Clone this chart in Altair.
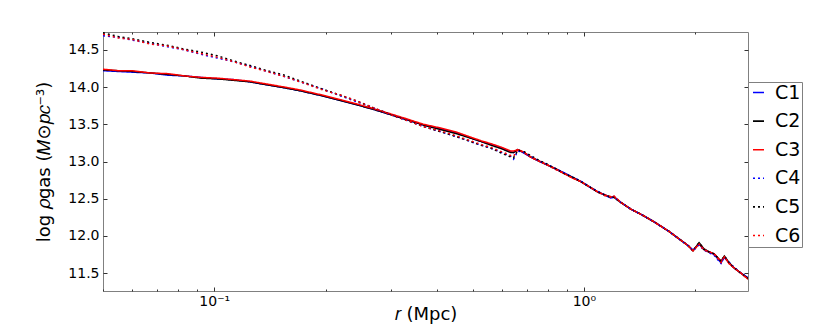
import altair as alt
import pandas as pd

# radius (Mpc)
R = [0.050, 0.055, 0.060, 0.067, 0.075, 0.083, 0.092, 0.102, 0.113, 0.125,
     0.139, 0.155, 0.171, 0.197, 0.220, 0.244, 0.270, 0.300, 0.333, 0.368,
     0.410, 0.455, 0.526, 0.560, 0.600, 0.634, 0.645, 0.663, 0.690, 0.718,
     0.760, 0.799, 0.840, 0.883, 0.930, 0.981, 1.035, 1.091, 1.140, 1.183,
     1.205, 1.259, 1.340, 1.440, 1.548, 1.700, 1.914, 1.974, 2.050, 2.110,
     2.170, 2.250, 2.350, 2.400, 2.470, 2.550, 2.660, 2.780]

C1 = [14.22, 14.21, 14.20, 14.19, 14.16, 14.15, 14.13, 14.11, 14.10, 14.07,
      14.03, 13.99, 13.95, 13.88, 13.82, 13.76, 13.70, 13.63, 13.56, 13.49,
      13.44, 13.38, 13.27, 13.23, 13.18, 13.13, 13.12, 13.16, 13.11, 13.06,
      13.00, 12.95, 12.90, 12.85, 12.79, 12.73, 12.66, 12.59, 12.55, 12.51,
      12.53, 12.45, 12.36, 12.28, 12.19, 12.06, 11.87, 11.81, 11.89, 11.82,
      11.79, 11.75, 11.64, 11.71, 11.64, 11.57, 11.50, 11.44]
C2 = [14.23, 14.22, 14.21, 14.19, 14.17, 14.15, 14.12, 14.11, 14.09, 14.07,
      14.03, 13.99, 13.95, 13.88, 13.82, 13.76, 13.70, 13.63, 13.56, 13.49,
      13.43, 13.37, 13.27, 13.22, 13.17, 13.12, 13.12, 13.16, 13.12, 13.06,
      13.00, 12.95, 12.90, 12.84, 12.79, 12.73, 12.66, 12.59, 12.55, 12.52,
      12.52, 12.45, 12.36, 12.28, 12.19, 12.06, 11.87, 11.80, 11.91, 11.83,
      11.79, 11.76, 11.66, 11.73, 11.64, 11.57, 11.50, 11.43]
C3 = [14.24, 14.22, 14.22, 14.19, 14.18, 14.15, 14.13, 14.12, 14.10, 14.08,
      14.04, 14.00, 13.96, 13.89, 13.83, 13.77, 13.71, 13.64, 13.57, 13.50,
      13.45, 13.39, 13.28, 13.24, 13.19, 13.14, 13.14, 13.16, 13.12, 13.06,
      13.00, 12.95, 12.90, 12.84, 12.78, 12.73, 12.66, 12.59, 12.55, 12.52,
      12.53, 12.45, 12.36, 12.28, 12.19, 12.06, 11.87, 11.80, 11.89, 11.82,
      11.79, 11.76, 11.66, 11.72, 11.63, 11.57, 11.50, 11.42]
C4 = [14.69, 14.67, 14.63, 14.59, 14.54, 14.50, 14.44, 14.39, 14.34, 14.28,
      14.21, 14.14, 14.07, 13.97, 13.88, 13.80, 13.72, 13.63, 13.55, 13.47,
      13.40, 13.33, 13.22, 13.18, 13.12, 13.07, 13.03, 13.14, 13.12, 13.07,
      13.00, 12.96, 12.90, 12.85, 12.79, 12.74, 12.66, 12.60, 12.55, 12.51,
      12.52, 12.45, 12.36, 12.28, 12.19, 12.06, 11.87, 11.80, 11.88, 11.81,
      11.78, 11.74, 11.63, 11.72, 11.65, 11.58, 11.50, 11.44]
C5 = [14.73, 14.68, 14.65, 14.60, 14.56, 14.51, 14.47, 14.42, 14.35, 14.29,
      14.22, 14.16, 14.08, 13.97, 13.89, 13.81, 13.72, 13.63, 13.55, 13.47,
      13.40, 13.33, 13.22, 13.18, 13.11, 13.06, 13.05, 13.15, 13.13, 13.08,
      13.01, 12.96, 12.90, 12.84, 12.79, 12.73, 12.66, 12.59, 12.55, 12.52,
      12.52, 12.45, 12.36, 12.28, 12.19, 12.06, 11.87, 11.80, 11.91, 11.82,
      11.79, 11.76, 11.66, 11.73, 11.64, 11.57, 11.50, 11.43]
C6 = [14.71, 14.66, 14.64, 14.58, 14.55, 14.50, 14.45, 14.40, 14.34, 14.27,
      14.21, 14.14, 14.07, 13.96, 13.89, 13.81, 13.72, 13.63, 13.55, 13.47,
      13.41, 13.34, 13.23, 13.19, 13.13, 13.08, 13.07, 13.16, 13.12, 13.06,
      13.00, 12.95, 12.89, 12.84, 12.78, 12.73, 12.66, 12.59, 12.54, 12.53,
      12.54, 12.45, 12.36, 12.28, 12.19, 12.06, 11.87, 11.80, 11.89, 11.81,
      11.79, 11.76, 11.64, 11.72, 11.63, 11.57, 11.50, 11.42]

SERIES = ["C1", "C2", "C3", "C4", "C5", "C6"]
COLORS = ["#0000ff", "#000000", "#ff0000", "#0000ff", "#000000", "#ff0000"]
DASHES = [[1, 0], [1, 0], [1, 0], [2, 3], [2, 3], [2, 3]]
Y_TICKS = [11.5, 12.0, 12.5, 13.0, 13.5, 14.0, 14.5]
X_TICKS = [0.05, 0.06, 0.07, 0.08, 0.09, 0.1, 0.2, 0.3, 0.4, 0.5, 0.6,
           0.7, 0.8, 0.9, 1, 2]
X_DOMAIN = [0.05, 2.78]
Y_DOMAIN = [11.26, 14.74]

rows = []
for name, vals in zip(SERIES, [C1, C2, C3, C4, C5, C6]):
    for r, v in zip(R, vals):
        rows.append({"r": r, "rho": v, "series": name})
df = pd.DataFrame(rows)

W, H = 645, 259
FONT = "DejaVu Sans"
xscale = alt.Scale(type="log", domain=X_DOMAIN, nice=False)
yscale = alt.Scale(domain=Y_DOMAIN, nice=False, zero=False)

major = "datum.value == 0.1 || datum.value == 1"
xtick_size = {"condition": {"test": major, "value": 4}, "value": 2}

legend = alt.Legend(
    title=None, orient="none", legendX=W, legendY=50,
    symbolType="stroke", symbolSize=121, symbolStrokeWidth=1.6,
    labelFontSize=19, labelFont=FONT, labelColor="#000",
    rowPadding=8.6, padding=1, labelOffset=7,
    strokeColor="#808080", fillColor="white",
)

lines = alt.Chart(df).mark_line(strokeWidth=1.5, clip=True).encode(
    x=alt.X("r:Q", scale=xscale, axis=alt.Axis(
        orient="bottom", values=X_TICKS, ticks=False, domain=False, grid=False,
        labelExpr="datum.value == 0.1 ? '10⁻¹' : (datum.value == 1 ? '10⁰' : '')",
        labelOverlap=False, labelFlush=False, labelFontSize=14, labelPadding=3,
        title="𝑟 (Mpc)", titleFontSize=18, titlePadding=-3)),
    y=alt.Y("rho:Q", scale=yscale, axis=alt.Axis(
        orient="left", values=Y_TICKS, format=".1f", ticks=False, domain=False,
        grid=False, labelFontSize=14, labelPadding=4,
        title="log 𝜌gas (𝑀⊙𝑝𝑐⁻³)", titleFontSize=18, titlePadding=14)),
    color=alt.Color("series:N", scale=alt.Scale(domain=SERIES, range=COLORS),
                    legend=legend),
    strokeDash=alt.StrokeDash("series:N", scale=alt.Scale(domain=SERIES, range=DASHES),
                              legend=legend),
)

# inward ticks at bottom and left edges
ticks_a = alt.Chart(df).mark_point(opacity=0).encode(
    x=alt.X("r:Q", scale=xscale, axis=alt.Axis(
        orient="top", offset=-H, values=X_TICKS, labels=False, domain=False,
        grid=False, tickSize=xtick_size, title=None)),
    y=alt.Y("rho:Q", scale=yscale, axis=alt.Axis(
        orient="right", offset=-W, values=Y_TICKS, labels=False, domain=False,
        grid=False, tickSize=4, title=None)),
)
# inward ticks at top and right edges
ticks_b = alt.Chart(df).mark_point(opacity=0).encode(
    x=alt.X("r:Q", scale=xscale, axis=alt.Axis(
        orient="bottom", offset=-H, values=X_TICKS, labels=False, domain=False,
        grid=False, tickSize=xtick_size, title=None)),
    y=alt.Y("rho:Q", scale=yscale, axis=alt.Axis(
        orient="left", offset=-W, values=Y_TICKS, labels=False, domain=False,
        grid=False, tickSize=4, title=None)),
)

chart = alt.layer(lines, ticks_a, ticks_b).resolve_axis(
    x="independent", y="independent"
).properties(
    width=W, height=H,
    autosize=alt.AutoSizeParams(type="none"),
    padding={"left": 95, "top": 24, "right": 74, "bottom": 33},
).configure_view(
    stroke="#808080", strokeWidth=1
).configure_axis(
    labelFont=FONT, titleFont=FONT, labelColor="#000", titleColor="#000",
    titleFontWeight="normal", tickColor="#333", tickWidth=1
)

chart.save("out.html", embed_options={"renderer": "svg", "actions": False})
